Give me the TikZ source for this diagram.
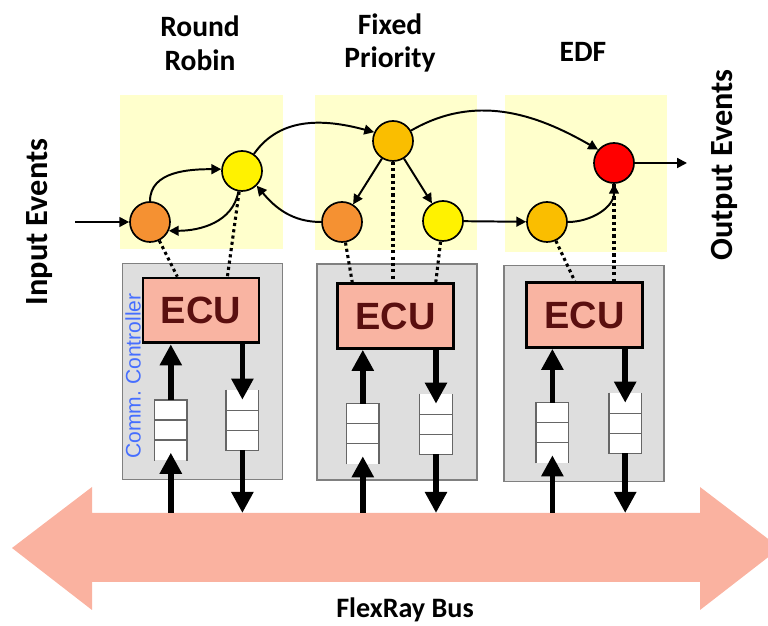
\documentclass[tikz,border=0pt]{standalone}
\usepackage{fontspec}
\setmainfont{Carlito}
\newfontfamily\arialfont{Liberation Sans}
\usetikzlibrary{arrows.meta}
\definecolor{panelyellow}{RGB}{255,255,204}
\definecolor{boxgray}{RGB}{222,222,222}
\definecolor{ecusalmon}{RGB}{249,180,162}
\definecolor{busred}{RGB}{250,178,160}
\definecolor{ecutext}{RGB}{90,15,15}
\definecolor{evorange}{RGB}{245,145,50}
\definecolor{evgold}{RGB}{250,190,0}
\definecolor{commblue}{RGB}{70,110,255}
\tikzset{
  headline/.style={font=\fontsize{21}{24}\selectfont\bfseries, align=center},
  sidelabel/.style={font=\fontsize{23}{27}\selectfont\bfseries, rotate=90},
  ctrlbox/.style={draw=gray, line width=1pt, fill=boxgray, minimum width=4cm, minimum height=5.4cm, inner sep=0pt},
  ecubox/.style={draw=black, line width=2pt, fill=ecusalmon, minimum width=2.9cm, minimum height=1.62cm, font=\arialfont\fontsize{27}{27}\selectfont\bfseries, text=ecutext},
  evnode/.style={circle, draw=black, line width=1.2pt, minimum size=1cm, inner sep=0pt},
  queue/.style={minimum width=0.8cm, minimum height=1.5cm, inner sep=0pt, fill=white},
  qline/.style={draw=gray!80!black, line width=0.9pt},
  flow/.style={-{Triangle[length=7pt,width=7pt]}, line width=1.4pt},
  dep/.style={dash pattern=on 2.2pt off 2.3pt, line width=2.2pt},
  bigarrow/.style={-{Triangle[length=15pt,width=15pt]}, line width=4pt}
}
\begin{document}
\begin{tikzpicture}
\useasboundingbox (0,0) rectangle (19.2,15.65);
\fill[panelyellow] (3.0,9.425) rectangle (7.075,13.275);
\fill[panelyellow] (7.875,9.4) rectangle (11.925,13.275);
\fill[panelyellow] (12.625,9.35) rectangle (16.675,13.275);
\fill[busred] (0.3,1.95) -- (2.3,3.475) -- (2.3,2.825) -- (17.5,2.825) -- (17.5,3.475) -- (19.5,1.95) -- (17.5,0.4) -- (17.5,1.1) -- (2.3,1.1) -- (2.3,0.4) -- cycle;
\coordinate (bustop) at (0,2.825);
\node (bus) at (10.125,0.4) {\fontsize{20}{24}\selectfont\bfseries FlexRay Bus};
\node[headline] (rr) at (5.0,14.575) {Round\\Robin};
\node[headline] (fp) at (9.75,14.575) {Fixed\\Priority};
\node[headline] (edf) at (14.575,14.35) {EDF};
\node[sidelabel] (inlabel) at (1.0,10.1) {Input Events};
\node[sidelabel] (outlabel) at (18.1,11.525) {Output Events};
\node[ctrlbox] (ctrl1) at (5.06,6.36) {};
\node[ctrlbox] (ctrl2) at (9.925,6.35) {};
\node[ctrlbox] (ctrl3) at (14.6,6.31) {};
\node[rotate=90, text=commblue, font=\arialfont\fontsize{15}{15}\selectfont] (comm) at (3.325,6.25) {Comm.\ Controller};
\node[ecubox] (e1) at (5.025,7.8875) {ECU};
\node[ecubox] (e2) at (9.8875,7.75) {ECU};
\node[ecubox] (e3) at (14.6125,7.775) {ECU};
\node[queue] (q1in) at (4.27,4.89) {};
\node[queue] (q1out) at (6.06,5.15) {};
\node[queue] (q2in) at (9.07,4.8) {};
\node[queue] (q2out) at (10.9,5.05) {};
\node[queue] (q3in) at (13.81,4.825) {};
\node[queue] (q3out) at (15.63,5.075) {};
\draw[qline] (q1in.south west) -- (q1in.north west) -- (q1in.north east) -- (q1in.south east);
\draw[qline] ([yshift=-0.5cm]q1in.north west) -- ([yshift=-0.5cm]q1in.north east);
\draw[qline] ([yshift=-1cm]q1in.north west) -- ([yshift=-1cm]q1in.north east);
\draw[qline] (q2in.south west) -- (q2in.north west) -- (q2in.north east) -- (q2in.south east);
\draw[qline] ([yshift=-0.5cm]q2in.north west) -- ([yshift=-0.5cm]q2in.north east);
\draw[qline] ([yshift=-1cm]q2in.north west) -- ([yshift=-1cm]q2in.north east);
\draw[qline] (q3in.south west) -- (q3in.north west) -- (q3in.north east) -- (q3in.south east);
\draw[qline] ([yshift=-0.5cm]q3in.north west) -- ([yshift=-0.5cm]q3in.north east);
\draw[qline] ([yshift=-1cm]q3in.north west) -- ([yshift=-1cm]q3in.north east);
\draw[qline] (q1out.north west) -- (q1out.south west) -- (q1out.south east) -- (q1out.north east);
\draw[qline] ([yshift=0.5cm]q1out.south west) -- ([yshift=0.5cm]q1out.south east);
\draw[qline] ([yshift=1cm]q1out.south west) -- ([yshift=1cm]q1out.south east);
\draw[qline] (q2out.north west) -- (q2out.south west) -- (q2out.south east) -- (q2out.north east);
\draw[qline] ([yshift=0.5cm]q2out.south west) -- ([yshift=0.5cm]q2out.south east);
\draw[qline] ([yshift=1cm]q2out.south west) -- ([yshift=1cm]q2out.south east);
\draw[qline] (q3out.north west) -- (q3out.south west) -- (q3out.south east) -- (q3out.north east);
\draw[qline] ([yshift=0.5cm]q3out.south west) -- ([yshift=0.5cm]q3out.south east);
\draw[qline] ([yshift=1cm]q3out.south west) -- ([yshift=1cm]q3out.south east);
\draw[bigarrow] (q1in.north) -- (q1in.north |- e1.south);
\draw[bigarrow] (e1.south -| q1out.north) -- ([yshift=-0.25cm]q1out.north);
\draw[bigarrow] (q1in |- bustop) -- ([yshift=0.2cm]q1in.south);
\draw[bigarrow] (q1out.south) -- (q1out.south |- bustop);
\draw[bigarrow] (q2in.north) -- (q2in.north |- e2.south);
\draw[bigarrow] (e2.south -| q2out.north) -- ([yshift=-0.25cm]q2out.north);
\draw[bigarrow] (q2in |- bustop) -- ([yshift=0.2cm]q2in.south);
\draw[bigarrow] (q2out.south) -- (q2out.south |- bustop);
\draw[bigarrow] (q3in.north) -- (q3in.north |- e3.south);
\draw[bigarrow] (e3.south -| q3out.north) -- ([yshift=-0.25cm]q3out.north);
\draw[bigarrow] (q3in |- bustop) -- ([yshift=0.2cm]q3in.south);
\draw[bigarrow] (q3out.south) -- (q3out.south |- bustop);
\node[evnode, fill=evorange] (n1) at (3.75,10.1) {};
\node[evnode, fill=yellow] (n2) at (6.05,11.375) {};
\node[evnode, fill=evgold] (n3) at (9.825,12.125) {};
\node[evnode, fill=evorange] (n4) at (8.55,10.1) {};
\node[evnode, fill=yellow] (n5) at (11.075,10.125) {};
\node[evnode, fill=evgold] (n6) at (13.675,10.1) {};
\node[evnode, fill=red] (n7) at (15.35,11.575) {};
\coordinate (inev) at (1.875,10.1);
\coordinate (outev) at (17.175,11.575);
\draw[dep] (n1) -- (e1.125);
\draw[dep] (n2) -- (e1.52);
\draw[dep] (n4) -- (e2.142);
\draw[dep] (n3) -- (n3 |- e2.north);
\draw[dep] (n5) -- (e2.40);
\draw[dep] (n6) -- (e3.106);
\draw[dep] (n7) -- (n7 |- e3.north);
\draw[flow] (inev) -- (n1);
\draw[flow] (n1.north) to[out=90,in=180] (n2.175);
\draw[flow] (n2.-100) to[out=-100,in=0] (n1.-25);
\draw[flow] (n4.west) to[out=180,in=-50] (n2.-45);
\draw[flow] (n2.55) to[out=55,in=165] (n3.155);
\draw[flow] (n3) -- (n4);
\draw[flow] (n3) -- (n5);
\draw[flow] (n3.30) to[out=30,in=150] (n7.140);
\draw[flow] (n5) -- (n6);
\draw[flow] (n6.east) to[out=0,in=-90] (n7.south);
\draw[flow] (n7) -- (outev);
\end{tikzpicture}
\end{document}
